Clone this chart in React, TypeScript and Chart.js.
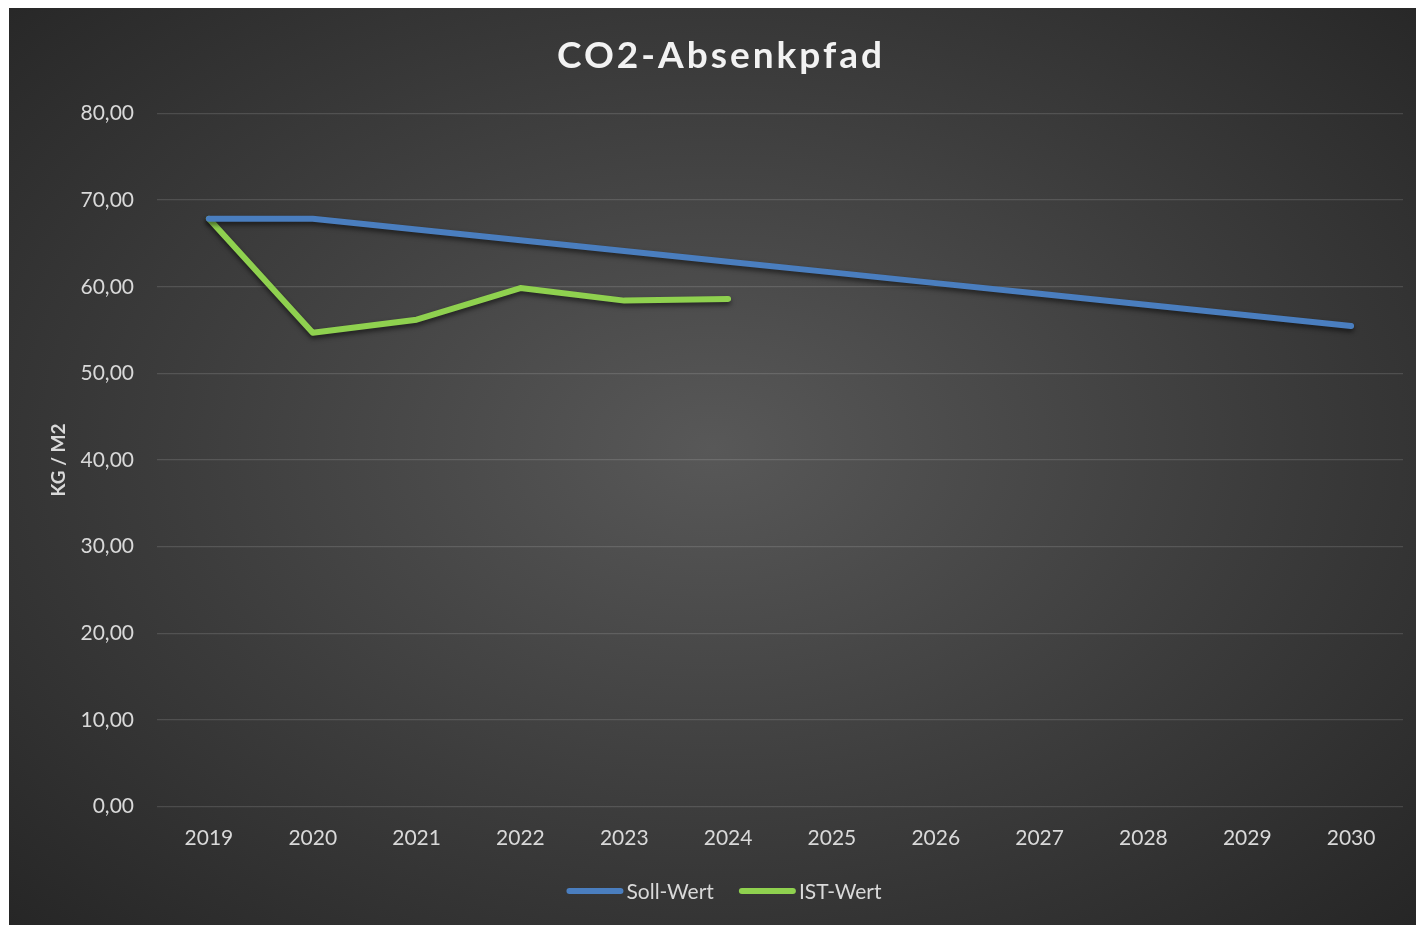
import React, { useEffect, useRef } from "react";
import { Chart, registerables } from "chart.js";

Chart.register(...registerables);

const TITLE = "CO2-Absenkpfad";
const Y_TITLE = "KG / M2";
const YEARS = ["2019", "2020", "2021", "2022", "2023", "2024", "2025", "2026", "2027", "2028", "2029", "2030"];
const SOLL_LABEL = "Soll-Wert";
const IST_LABEL = "IST-Wert";
const SOLL = [67.84, 67.84, 66.6, 65.36, 64.13, 62.89, 61.66, 60.42, 59.19, 57.95, 56.72, 55.48];
const IST = [67.84, 54.68, 56.2, 59.85, 58.4, 58.6, null, null, null, null, null, null];

const FONT = "Lato, 'Open Sans', sans-serif";
const TEXT = "#d9d9d9";

const shadowPlugin = {
  id: "lineShadow",
  beforeDatasetDraw(chart: any) {
    const ctx = chart.ctx;
    ctx.save();
    ctx.shadowColor = "rgba(0,0,0,0.55)";
    ctx.shadowBlur = 5;
    ctx.shadowOffsetX = 0;
    ctx.shadowOffsetY = 3;
  },
  afterDatasetDraw(chart: any) {
    chart.ctx.restore();
  },
};

const titlePlugin = {
  id: "spacedTitle",
  afterDraw(chart: any) {
    const ctx = chart.ctx;
    ctx.save();
    ctx.font = `bold 37px ${FONT}`;
    (ctx as any).letterSpacing = "3px";
    ctx.fillStyle = "#f2f2f2";
    ctx.textAlign = "center";
    ctx.textBaseline = "middle";
    ctx.fillText(TITLE, 712, 48);
    ctx.restore();
  },
};

const legendPlugin = {
  id: "lineLegend",
  afterDraw(chart: any) {
    const ctx = chart.ctx;
    const ds = chart.data.datasets;
    ctx.save();
    ctx.font = `21px ${FONT}`;
    const lineW = 57;
    const gapText = 3;
    const gapItems = 25;
    const widths = ds.map((d: any) => ctx.measureText(d.label).width);
    const total = widths.reduce((a: number, w: number) => a + lineW + gapText + w, 0) + gapItems * (ds.length - 1);
    let x = 715 - total / 2;
    const y = 883;
    ds.forEach((d: any, i: number) => {
      ctx.strokeStyle = d.borderColor;
      ctx.lineWidth = 6;
      ctx.lineCap = "round";
      ctx.beginPath();
      ctx.moveTo(x + 3, y);
      ctx.lineTo(x + lineW - 3, y);
      ctx.stroke();
      ctx.fillStyle = TEXT;
      ctx.textAlign = "left";
      ctx.textBaseline = "middle";
      ctx.fillText(d.label, x + lineW + gapText, y + 1);
      x += lineW + gapText + widths[i] + gapItems;
    });
    ctx.restore();
  },
};

export default function App() {
  const ref = useRef<HTMLCanvasElement | null>(null);

  useEffect(() => {
    document.body.style.margin = "0";
    document.body.style.overflow = "hidden";
    const chart = new Chart(ref.current as HTMLCanvasElement, {
      type: "line",
      data: {
        labels: YEARS,
        datasets: [
          {
            label: SOLL_LABEL,
            data: SOLL,
            borderColor: "#4a7ebf",
            backgroundColor: "#4a7ebf",
            borderWidth: 6,
            pointRadius: 0,
            borderCapStyle: "round",
            borderJoinStyle: "round",
            tension: 0,
          },
          {
            label: IST_LABEL,
            data: IST,
            borderColor: "#8fd14f",
            backgroundColor: "#8fd14f",
            borderWidth: 6,
            pointRadius: 0,
            borderCapStyle: "round",
            borderJoinStyle: "round",
            tension: 0,
          },
        ],
      },
      options: {
        animation: false,
        responsive: false,
        layout: { padding: { top: 105.5, left: 30, right: 13, bottom: 56.5 } },
        plugins: {
          title: { display: false },
          tooltip: { enabled: false },
          legend: { display: false },
        },
        scales: {
          x: {
            offset: true,
            grid: { display: false, drawTicks: false },
            border: { display: false },
            ticks: { color: TEXT, font: { family: FONT, size: 21 }, padding: 19, maxRotation: 0 },
            afterFit: (s: any) => { s.height = 62; },
          },
          y: {
            min: 0,
            max: 80,
            grid: { color: "rgba(255,255,255,0.13)", lineWidth: 1.3, drawTicks: false },
            border: { display: false },
            ticks: {
              stepSize: 10,
              color: TEXT,
              font: { family: FONT, size: 21 },
              padding: 23,
              callback: (v: any) => Number(v).toFixed(2).replace(".", ","),
            },
            title: {
              display: true,
              text: Y_TITLE,
              color: TEXT,
              font: { family: FONT, size: 19, weight: 700 },
              padding: { top: 8, bottom: 0 },
            },
            afterFit: (s: any) => { s.width = 118; },
          },
        },
      },
      plugins: [shadowPlugin, titlePlugin, legendPlugin],
    } as any);
    return () => chart.destroy();
  }, []);

  return (
    <div style={{ width: 1416, height: 925, background: "#fff", position: "relative" }}>
      <div
        style={{
          position: "absolute",
          left: 9,
          top: 8,
          width: 1407,
          height: 917,
          background: "radial-gradient(ellipse at 50% 48%, #585858 0%, #3c3c3c 55%, #262626 100%)",
        }}
      >
        <canvas ref={ref} width={1407} height={917} style={{ display: "block" }} />
      </div>
    </div>
  );
}
